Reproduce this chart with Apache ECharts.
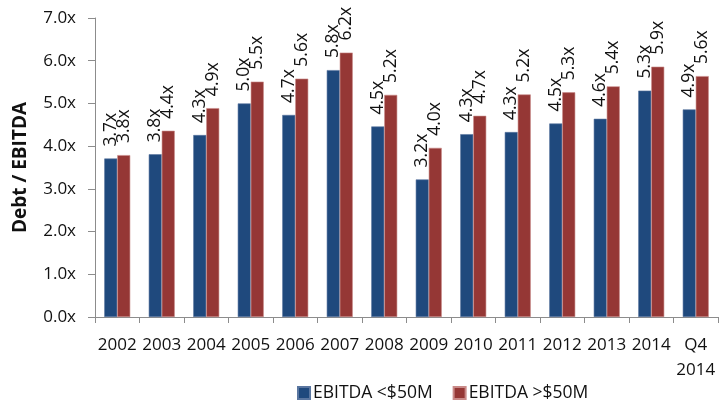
<!DOCTYPE html>
<html>
<head>
<meta charset="utf-8">
<script src="https://cdn.jsdelivr.net/npm/echarts@6/dist/echarts.min.js"></script>
<style>
  html, body { margin: 0; padding: 0; background: #fff; }
  #chart { width: 725px; height: 400px; }
</style>
</head>
<body>
<div id="chart"></div>
<script>
// Leverage multiples by year, split by EBITDA size
const categories = ['2002', '2003', '2004', '2005', '2006', '2007', '2008',
  '2009', '2010', '2011', '2012', '2013', '2014', 'Q4\n2014'];
const smallEbitda = [3.71, 3.81, 4.26, 5.00, 4.73, 5.78, 4.46, 3.22, 4.28, 4.33, 4.53, 4.64, 5.30, 4.86];
const largeEbitda = [3.79, 4.36, 4.89, 5.51, 5.58, 6.19, 5.20, 3.96, 4.71, 5.21, 5.26, 5.40, 5.86, 5.64];
const seriesNames = ['EBITDA <$50M', 'EBITDA >$50M'];
const yTicks = [0, 1, 2, 3, 4, 5, 6, 7];

const FONT = '"Open Sans", "Liberation Sans", sans-serif';
const fmt = v => v.toFixed(1) + 'x';

const chart = echarts.init(document.getElementById('chart'), null, { renderer: 'canvas' });

const labelStyle = {
  show: true,
  position: 'top',
  rotate: 90,
  align: 'left',
  verticalAlign: 'middle',
  distance: 12,
  color: '#111',
  fontFamily: FONT,
  fontSize: 17.5,
  formatter: p => fmt(p.value)
};

chart.setOption({
  animation: false,
  backgroundColor: '#fff',
  grid: { left: 95, right: 7, top: 18, bottom: 83 },
  legend: {
    left: 292,
    top: 379,
    icon: 'rect',
    itemWidth: 12,
    itemHeight: 12,
    itemGap: 20,
    textStyle: { color: '#111', fontFamily: FONT, fontSize: 17.5, padding: [0, 0, 0, -2] },
    data: seriesNames
  },
  xAxis: {
    type: 'category',
    data: categories,
    axisLine: { lineStyle: { color: '#8c8c8c', width: 1 } },
    axisTick: { show: true, length: 6, interval: 0, lineStyle: { color: '#8c8c8c' } },
    axisLabel: {
      interval: 0,
      margin: 16,
      color: '#111',
      fontFamily: FONT,
      fontSize: 17,
      lineHeight: 25
    }
  },
  yAxis: {
    type: 'value',
    min: yTicks[0],
    max: yTicks[yTicks.length - 1],
    interval: 1,
    name: 'Debt / EBITDA',
    nameLocation: 'middle',
    nameGap: 65,
    nameRotate: 90,
    nameTextStyle: { color: '#111', fontFamily: FONT, fontSize: 19, fontWeight: 'bold' },
    splitLine: { show: false },
    axisLine: { show: true, lineStyle: { color: '#8c8c8c', width: 1 } },
    axisTick: { show: true, length: 7, lineStyle: { color: '#8c8c8c' } },
    axisLabel: {
      margin: 19,
      color: '#111',
      fontFamily: FONT,
      fontSize: 17,
      formatter: v => fmt(v)
    }
  },
  series: [
    {
      name: seriesNames[0],
      type: 'bar',
      data: smallEbitda,
      barWidth: 13,
      barGap: '0%',
      itemStyle: { color: '#1f497d', borderColor: '#5a76a0', borderWidth: 0.6 },
      label: labelStyle
    },
    {
      name: seriesNames[1],
      type: 'bar',
      data: largeEbitda,
      barWidth: 13,
      barGap: '0%',
      itemStyle: { color: '#953735', borderColor: '#c98a88', borderWidth: 0.6 },
      label: labelStyle
    }
  ]
});
</script>
</body>
</html>
